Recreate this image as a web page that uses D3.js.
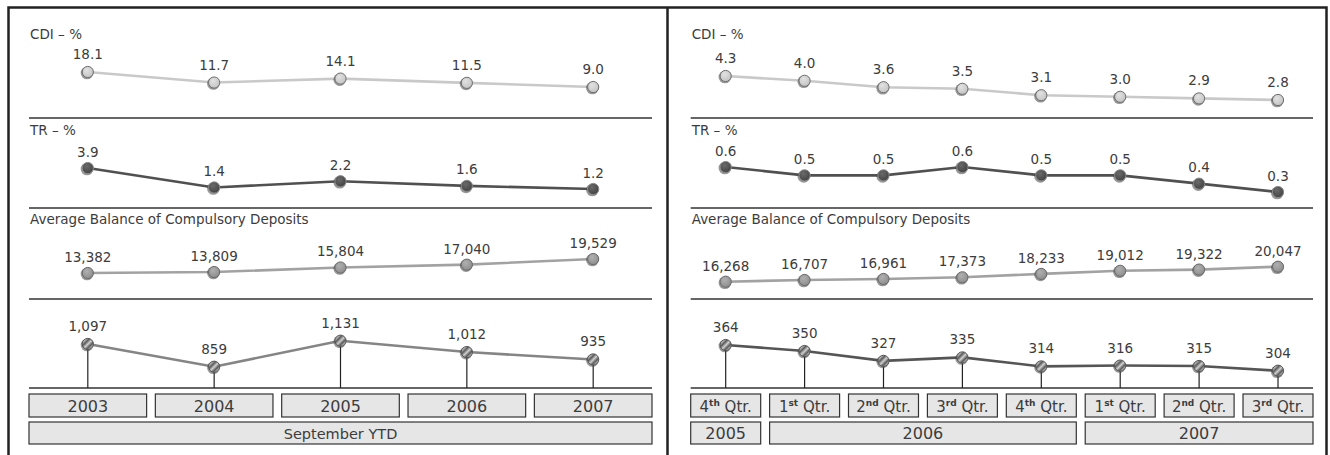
<!DOCTYPE html>
<html>
<head>
<meta charset="utf-8">
<script src="https://cdn.jsdelivr.net/npm/d3@7"></script>
<style>
  html, body { margin: 0; padding: 0; background: #fff; }
  svg { display: block; }
  text { font-family: "DejaVu Sans", sans-serif; fill: #3c3c3c; }
</style>
</head>
<body>
<svg id="chart" width="1330" height="455"></svg>
<script>
// ---------- DATA ----------
const rowTitles = ["CDI – %", "TR – %", "Average Balance of Compulsory Deposits", ""];

const leftYears = ["2003", "2004", "2005", "2006", "2007"];
const leftPeriod = ["September YTD"];
const leftCDI = [18.1, 11.7, 14.1, 11.5, 9.0];
const leftTR = [3.9, 1.4, 2.2, 1.6, 1.2];
const leftAvgBalance = [13382, 13809, 15804, 17040, 19529];
const leftBottom = [1097, 859, 1131, 1012, 935];

const rightQuarterNum = ["4", "1", "2", "3", "4", "1", "2", "3"];
const rightQuarterSuffix = ["th", "st", "nd", "rd", "th", "st", "nd", "rd"];
const rightQuarterYear = ["2005", "2006", "2006", "2006", "2006", "2007", "2007", "2007"];
const rightCDI = [4.3, 4.0, 3.6, 3.5, 3.1, 3.0, 2.9, 2.8];
const rightTR = [0.6, 0.5, 0.5, 0.6, 0.5, 0.5, 0.4, 0.3];
const rightAvgBalance = [16268, 16707, 16961, 17373, 18233, 19012, 19322, 20047];
const rightBottom = [364, 350, 327, 335, 314, 316, 315, 304];

// ---------- LAYOUT ----------
const svg = d3.select("#chart");
const defs = svg.append("defs");

function radial(id, c0, c1) {
  const g = defs.append("radialGradient").attr("id", id).attr("cx", "40%").attr("cy", "35%").attr("r", "65%");
  g.append("stop").attr("offset", "0%").attr("stop-color", c0);
  g.append("stop").attr("offset", "100%").attr("stop-color", c1);
}
radial("gCDI", "#e2e2e2", "#c4c4c4");
radial("gTR", "#6a6a6a", "#444");
radial("gAVG", "#b0b0b0", "#8e8e8e");
const stripe = defs.append("linearGradient").attr("id", "gBOT")
  .attr("x1", "0").attr("y1", "0").attr("x2", "0.34").attr("y2", "0.34")
  .attr("spreadMethod", "repeat");
stripe.append("stop").attr("offset", "0%").attr("stop-color", "#5a5a5a");
stripe.append("stop").attr("offset", "50%").attr("stop-color", "#d0d0d0");
stripe.append("stop").attr("offset", "100%").attr("stop-color", "#5a5a5a");

const rowStyle = [
  { fill: "url(#gCDI)", stroke: "#6e6e6e", line: "#c9c9c9", fmt: d3.format(".1f"), dy: 13 },
  { fill: "url(#gTR)", stroke: "#8a8a8a", line: "#505050", fmt: d3.format(".1f"), dy: 11.5 },
  { fill: "url(#gAVG)", stroke: "#6a6a6a", line: "#a2a2a2", fmt: d3.format(","), dy: 11 },
  { fill: "url(#gBOT)", stroke: "#555", line: null, fmt: d3.format(","), dy: 13 }
];

const separators = [118, 208, 299, 388];
const titleY = [39, 135, 224];
const boxRow1 = [394, 417];
const boxRow2 = [422, 444];

const panels = [
  {
    x0: 29, x1: 652,
    cats: leftYears,
    rows: [leftCDI, leftTR, leftAvgBalance, leftBottom],
    yRanges: [[87, 72], [189, 168], [273, 259], [366.7, 340.7]],
    bottomLine: "#858585",
  },
  {
    x0: 690.7, x1: 1313,
    cats: rightQuarterNum.map((d, i) => i + ""),
    rows: [rightCDI, rightTR, rightAvgBalance, rightBottom],
    yRanges: [[100, 76], [192, 167], [281.7, 266.7], [370.7, 345]],
    bottomLine: "#555",
  }
];

// frame
svg.append("path")
  .attr("d", "M8.5,455 V7.5 H1326.5 V455 M667.5,7.5 V455")
  .attr("fill", "none").attr("stroke", "#222").attr("stroke-width", 2.5);

panels.forEach((p, pi) => {
  const g = svg.append("g");
  const x = d3.scaleBand().domain(p.cats).range([p.x0, p.x1]).paddingInner(pi === 0 ? 0.069 : 0.113);
  const cx = d => x(d) + x.bandwidth() / 2;

  g.selectAll("line.sep").data(separators).join("line")
    .attr("x1", p.x0).attr("x2", p.x1).attr("y1", d => d).attr("y2", d => d)
    .attr("stroke", "#333").attr("stroke-width", 1.5);

  g.selectAll("text.title").data(titleY).join("text")
    .attr("x", p.x0 + 1).attr("y", d => d)
    .style("font-size", "13.5px")
    .text((d, i) => rowTitles[i]);

  p.rows.forEach((vals, ri) => {
    const st = rowStyle[ri];
    const y = d3.scaleLinear().domain(d3.extent(vals)).range(p.yRanges[ri]);
    const pts = vals.map((v, i) => ({ v, c: p.cats[i] }));

    if (ri === 3) {
      g.selectAll(null).data(pts).join("line")
        .attr("x1", d => cx(d.c)).attr("x2", d => cx(d.c))
        .attr("y1", d => y(d.v)).attr("y2", separators[3])
        .attr("stroke", "#222").attr("stroke-width", 1.2);
    }
    const line = d3.line().x(d => cx(d.c)).y(d => y(d.v));
    g.append("path").datum(pts).attr("d", line)
      .attr("fill", "none").attr("stroke", ri === 3 ? p.bottomLine : st.line)
      .attr("stroke-width", 2.6);

    g.selectAll(null).data(pts).join("circle")
      .attr("cx", d => cx(d.c) - 0.8).attr("cy", d => y(d.v) + 1)
      .attr("r", 6.3).attr("fill", "#444").attr("opacity", 0.55);
    g.selectAll(null).data(pts).join("circle")
      .attr("cx", d => cx(d.c)).attr("cy", d => y(d.v))
      .attr("r", 5.6).attr("fill", st.fill).attr("stroke", st.stroke).attr("stroke-width", 1);

    g.selectAll(null).data(pts).join("text")
      .attr("x", d => cx(d.c)).attr("y", d => y(d.v) - st.dy)
      .attr("text-anchor", "middle").style("font-size", "13.5px")
      .text(d => st.fmt(d.v));
  });

  const boxes = g.selectAll(null).data(p.cats).join("g");
  boxes.append("rect")
    .attr("x", d => x(d)).attr("y", boxRow1[0])
    .attr("width", x.bandwidth()).attr("height", boxRow1[1] - boxRow1[0])
    .attr("fill", "#e6e6e6").attr("stroke", "#333").attr("stroke-width", 1.2);

  if (pi === 0) {
    boxes.append("text")
      .attr("x", d => cx(d)).attr("y", boxRow1[1] - 5)
      .attr("text-anchor", "middle").style("font-size", "16px")
      .text(d => d);
    g.append("rect")
      .attr("x", p.x0).attr("y", boxRow2[0]).attr("width", p.x1 - p.x0).attr("height", boxRow2[1] - boxRow2[0])
      .attr("fill", "#e6e6e6").attr("stroke", "#333").attr("stroke-width", 1.2);
    g.append("text")
      .attr("x", (p.x0 + p.x1) / 2).attr("y", boxRow2[1] - 5.5)
      .attr("text-anchor", "middle").style("font-size", "14.5px")
      .text(leftPeriod[0]);
  } else {
    const t = boxes.append("text")
      .attr("x", d => cx(d)).attr("y", boxRow1[1] - 5)
      .attr("text-anchor", "middle").style("font-size", "15px");
    t.append("tspan").text(d => rightQuarterNum[+d]);
    t.append("tspan").attr("dy", -6).style("font-size", "9px").style("font-weight", "bold")
      .text(d => rightQuarterSuffix[+d]);
    t.append("tspan").attr("dy", 6).text(" Qtr.");

    const groups = d3.groups(p.cats, d => rightQuarterYear[+d]);
    groups.forEach(([yr, members]) => {
      const a = x(members[0]), b = x(members[members.length - 1]) + x.bandwidth();
      g.append("rect").attr("x", a).attr("y", boxRow2[0]).attr("width", b - a)
        .attr("height", boxRow2[1] - boxRow2[0])
        .attr("fill", "#e6e6e6").attr("stroke", "#333").attr("stroke-width", 1.2);
      g.append("text").attr("x", (a + b) / 2).attr("y", boxRow2[1] - 5)
        .attr("text-anchor", "middle").style("font-size", "16px").text(yr);
    });
  }
});
</script>
</body>
</html>
